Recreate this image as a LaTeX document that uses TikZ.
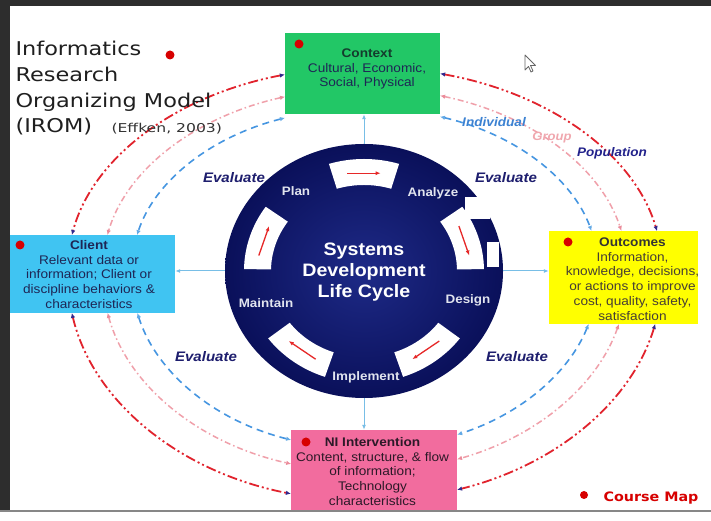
\documentclass[tikz,border=0pt]{standalone}
\usepackage{fontspec}
\setmainfont{Liberation Sans}
\newfontfamily\boxfont[FakeStretch=1.09]{Liberation Sans}
\newfontfamily\comicfont[FakeStretch=1.18]{DejaVu Sans}
\newfontfamily\effkenfont[FakeStretch=1.28]{DejaVu Sans}
\newfontfamily\mapfont[FakeStretch=1.1]{DejaVu Sans}
\usetikzlibrary{arrows.meta,shapes.geometric,calc}
\definecolor{darkframe}{RGB}{45,45,45}
\definecolor{framegray}{RGB}{135,135,135}
\definecolor{ctxgreen}{RGB}{34,199,102}
\definecolor{clientblue}{RGB}{64,196,242}
\definecolor{outyellow}{RGB}{255,255,0}
\definecolor{nipink}{RGB}{242,108,158}
\definecolor{dotred}{RGB}{215,0,0}
\definecolor{boxtxt}{RGB}{30,38,85}
\definecolor{ctxhead}{RGB}{20,60,45}
\definecolor{outtxt}{RGB}{70,62,52}
\definecolor{nitxt}{RGB}{45,25,40}
\definecolor{evalnavy}{RGB}{30,30,110}
\definecolor{indblue}{RGB}{60,130,210}
\definecolor{grppink}{RGB}{240,168,175}
\definecolor{popnavy}{RGB}{35,35,140}
\definecolor{redloopc}{RGB}{225,35,45}
\definecolor{pinkloopc}{RGB}{240,160,170}
\definecolor{blueloopc}{RGB}{70,150,225}
\definecolor{navyarr}{RGB}{50,40,140}
\definecolor{pinkarr}{RGB}{235,140,155}
\definecolor{bluearr}{RGB}{100,170,230}
\definecolor{linkblue}{RGB}{120,190,230}
\definecolor{ringin}{RGB}{30,42,135}
\definecolor{ringout}{RGB}{10,16,90}
\definecolor{labwhite}{RGB}{225,228,238}
\definecolor{segred}{RGB}{230,40,40}
\begin{document}
\begin{tikzpicture}[x=1pt,y=1pt,
  box/.style={rectangle,inner sep=0pt},
  boxtext/.style={align=center,font=\boxfont\fontsize{12.5}{14.8}\selectfont},
  reddot/.style={circle,fill=dotred,inner sep=0pt,minimum size=9pt},
  evallab/.style={font=\boxfont\bfseries\itshape\fontsize{13.8}{16}\selectfont,text=evalnavy},
  sdlclab/.style={font=\boxfont\bfseries\fontsize{12.3}{14}\selectfont,text=labwhite},
  titleline/.style={anchor=base west,font=\comicfont\fontsize{19}{22}\selectfont,text=black!88},
  redloop/.style={draw=redloopc,line width=1.8pt,dash pattern=on 10pt off 3pt on 2pt off 3pt on 2pt off 3pt,
    arrows={Latex[length=5pt,width=4.5pt,color=navyarr]-Latex[length=5pt,width=4.5pt,color=navyarr]}},
  pinkloop/.style={draw=pinkloopc,line width=1.5pt,dash pattern=on 6pt off 3pt on 1.5pt off 3pt,
    arrows={Latex[length=5pt,width=4.5pt,color=pinkarr]-Latex[length=5pt,width=4.5pt,color=pinkarr]}},
  blueloop/.style={draw=blueloopc,line width=1.6pt,dash pattern=on 7pt off 5pt,
    arrows={Latex[length=5pt,width=4.5pt,color=bluearr]-Latex[length=5pt,width=4.5pt,color=bluearr]}},
  link/.style={draw=linkblue,line width=1pt,-{Latex[length=5pt,width=4pt]}},
  segarrow/.style={draw=segred,line width=1.3pt,-{Latex[length=5pt,width=4pt]}}
]
\useasboundingbox (0,0) rectangle (711,521);
\fill[white] (0,0) rectangle (711,521);
\fill[darkframe] (0,515) rectangle (711,521);
\fill[darkframe] (0,10) rectangle (10,521);

% loop centre
\coordinate (loopc) at (365,249);

% ---------- loops ----------
% red (outer)
\draw[redloop] ($(loopc)+(105.6:298 and 205)$) arc[start angle=105.6,end angle=169.6,x radius=298,y radius=205];
\draw[redloop] ($(loopc)+(75.4:298 and 205)$) arc[start angle=75.4,end angle=11.5,x radius=298,y radius=205];
\draw[redloop] ($(loopc)+(190.3:298 and 229)$) arc[start angle=190.3,end angle=255.6,x radius=298,y radius=229];
\draw[redloop] ($(loopc)+(346.9:298 and 229)$) arc[start angle=346.9,end angle=288,x radius=298,y radius=229];
% pink (middle)
\draw[pinkloop] ($(loopc)+(107.7:263 and 184)$) arc[start angle=107.7,end angle=168.4,x radius=263,y radius=184];
\draw[pinkloop] ($(loopc)+(73.4:263 and 184)$) arc[start angle=73.4,end angle=12.9,x radius=263,y radius=184];
\draw[pinkloop] ($(loopc)+(191.8:263 and 200)$) arc[start angle=191.8,end angle=253.7,x radius=263,y radius=200];
\draw[pinkloop] ($(loopc)+(344.9:263 and 200)$) arc[start angle=344.9,end angle=290.5,x radius=263,y radius=200];
% blue (inner)
\draw[blueloop] ($(loopc)+(110:234 and 164)$) arc[start angle=110,end angle=167,x radius=234,y radius=164];
\draw[blueloop] ($(loopc)+(71.3:234 and 164)$) arc[start angle=71.3,end angle=14.5,x radius=234,y radius=164];
\draw[blueloop] ($(loopc)+(193.4:234 and 177)$) arc[start angle=193.4,end angle=251.6,x radius=234,y radius=177];
\draw[blueloop] ($(loopc)+(342.9:234 and 177)$) arc[start angle=342.9,end angle=293.2,x radius=234,y radius=177];

% ---------- boxes ----------
\node[box,fill=ctxgreen,minimum width=155pt,minimum height=81pt] (ctx) at (362.5,447.5) {};
\node[box,fill=clientblue,minimum width=165pt,minimum height=78pt] (client) at (92.5,247) {};
\node[box,fill=outyellow,minimum width=149pt,minimum height=93pt] (out) at (623.5,243.5) {};
\node[box,fill=nipink,minimum width=166pt,minimum height=81pt] (ni) at (374,50.5) {};

\node[boxtext,text=boxtxt] (ctxtext) at (367,452) {{\bfseries\color{ctxhead}Context}\\Cultural, Economic,\\Social, Physical};
\node[reddot] (ctxdot) at (299,477) {};
\node[boxtext,text=boxtxt] (clienttext) at (89,246.5) {{\bfseries Client}\\Relevant data or\\information; Client or\\discipline behaviors \&\\characteristics};
\node[reddot] (clientdot) at (20,276) {};
\node[boxtext,text=outtxt] (outtext) at (632.5,242) {{\bfseries\color{black!80}Outcomes}\\Information,\\knowledge, decisions,\\or actions to improve\\cost, quality, safety,\\satisfaction};
\node[reddot] (outdot) at (568,279) {};
\node[boxtext,text=nitxt] (nitext) at (372.5,49.5) {{\bfseries NI Intervention}\\Content, structure, \& flow\\of information;\\Technology\\characteristics};
\node[reddot] (nidot) at (306,79) {};

% ---------- SDLC circle ----------
\node[ellipse,minimum width=278pt,minimum height=254pt,inner sep=0pt,inner color=ringin,outer color=ringout] (sdlc) at (364,250) {};
\foreach \p in {90,18,-54,-126,162}{
  \fill[white] ($(sdlc.center)+(\p-17:120 and 112)$) arc[start angle=\p-17,end angle=\p+17,x radius=120,y radius=112]
     -- ($(sdlc.center)+(\p+17:93 and 86)$) arc[start angle=\p+17,end angle=\p-17,x radius=93,y radius=86] -- cycle;
  \draw[segarrow] ($(sdlc.center)+(\p+9:106.5 and 99)$) -- ($(sdlc.center)+(\p-9:106.5 and 99)$);
}
\node[align=center,text=white,font=\boxfont\bfseries\fontsize{18}{21}\selectfont] (sdlctext) at (364,249) {Systems\\Development\\Life Cycle};
\node[sdlclab] (plan) at (296,330) {Plan};
\node[sdlclab] (analyze) at (433,328) {Analyze};
\node[sdlclab] (design) at (468,221) {Design};
\node[sdlclab] (implement) at (366,144) {Implement};
\node[sdlclab] (maintain) at (266,218) {Maintain};
\fill[white] (465,302) rectangle (490,324);
\fill[white] (487,254) rectangle (499,279);

% ---------- links ----------
\draw[link] (sdlc.north) -- (sdlc.north |- ctx.south);
\draw[link] (sdlc.west) -- (sdlc.west -| client.east);
\draw[link] (sdlc.east) -- (sdlc.east -| out.west);
\draw[link] (sdlc.south) -- (sdlc.south |- ni.north);

% ---------- labels ----------
\node[evallab] (ev1) at (234,343) {Evaluate};
\node[evallab] (ev2) at (506,343) {Evaluate};
\node[evallab] (ev3) at (206,164) {Evaluate};
\node[evallab] (ev4) at (517,164) {Evaluate};
\node[font=\boxfont\bfseries\itshape\fontsize{12.5}{14}\selectfont,text=indblue] (indiv) at (494,399) {Individual};
\node[font=\boxfont\bfseries\itshape\fontsize{12}{14}\selectfont,text=grppink] (group) at (552,383) {Group};
\node[font=\boxfont\bfseries\itshape\fontsize{12.4}{14}\selectfont,text=popnavy] (popul) at (612,368) {Population};

% ---------- title ----------
\node[titleline] (t1) at (12,465) {Informatics};
\node[titleline] (t2) at (12,439) {Research};
\node[titleline] (t3) at (12,413) {Organizing Model};
\node[titleline] (t4) at (12,388) {(IROM)};
\node[anchor=base west,font=\effkenfont\fontsize{12.2}{14}\selectfont,text=black!80] (t5) at (108,388) {(Effken, 2003)};
\node[reddot] (titledot) at (170,466) {};

% ---------- course map ----------
\node[reddot,minimum size=8pt] (mapdot) at (584,26) {};
\node[anchor=base west,font=\mapfont\bfseries\fontsize{13}{15}\selectfont,text=dotred] (coursemap) at (600,19.5) {Course Map};

% ---------- cursor ----------
\draw[black!60,fill=white,line width=0.8pt,line join=round] (525,466) -- ++(0,-15) -- ++(3.5,3.5) -- ++(2.5,-5.5) -- ++(2,1) -- ++(-2.5,5.5) -- ++(5,0) -- cycle;

% bottom frame line
\fill[white] (0,0) rectangle (711,9);
\fill[framegray] (0,9) rectangle (711,11);
\end{tikzpicture}
\end{document}
